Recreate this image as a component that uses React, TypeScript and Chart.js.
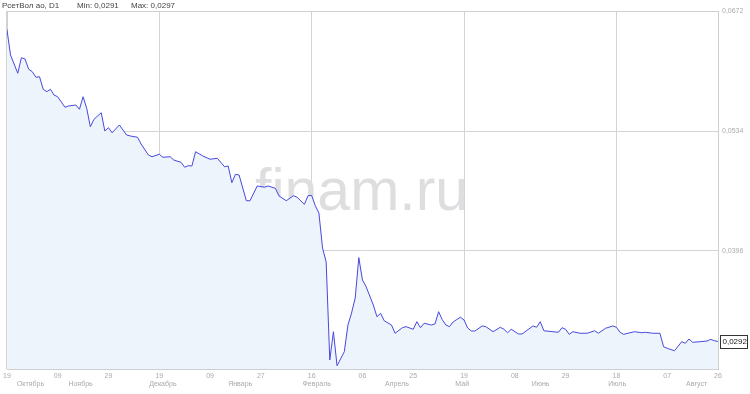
import React, { useEffect, useRef } from "react";
import { Chart, registerables } from "chart.js";

Chart.register(...registerables);

const FONT = "Arial, 'Liberation Sans', sans-serif";

// trading-day index of each sample and closing price
const dayIndex = [
  0, 1, 3, 4, 5, 6, 7, 8, 9, 10, 11, 12, 13, 14, 16, 17, 19, 20, 21, 22, 23, 24, 26, 27, 28, 29, 31, 33, 34, 36, 37, 39, 40, 42,
  43, 45, 46, 48, 49, 50, 51, 52, 54, 56, 58, 60, 61, 62, 63, 64, 66, 67, 69, 71, 72, 74, 75, 77, 79, 80, 82, 83, 84,
  85, 86, 87, 88, 89, 90, 91, 93, 94, 95, 96, 97, 98, 99, 101, 102, 103, 104, 106, 107, 109, 110, 112, 113, 114, 115,
  117, 118, 119, 120, 121, 122, 123, 124, 125, 126, 127, 128, 129, 131, 132, 134, 136, 137, 138, 139, 141, 142, 145,
  146, 147, 148, 152, 153, 154, 155, 156, 158, 160, 162, 163, 165, 167, 168, 169, 170, 173, 175, 176, 178, 180, 181,
  182, 184, 186, 187, 188, 189, 191, 193, 194, 195, 196,
];
const price = [
  0.0651, 0.06214, 0.06004, 0.06183, 0.06168, 0.0605, 0.06022, 0.05958, 0.05964, 0.0582, 0.05792, 0.0582, 0.05754,
  0.05734, 0.05613, 0.05628, 0.05639, 0.0559, 0.05734, 0.05601, 0.05389, 0.05475, 0.0555, 0.0534, 0.05378, 0.0532,
  0.05409, 0.05294, 0.05283, 0.05268, 0.0519, 0.05064, 0.05044, 0.05072,
  0.05038, 0.05044, 0.05006, 0.0498, 0.04923, 0.04941, 0.04938, 0.05102, 0.05053, 0.05015, 0.05026, 0.04929, 0.04937,
  0.04746, 0.04842, 0.04834, 0.04538, 0.04538, 0.04708, 0.04693, 0.04708, 0.04681, 0.04593, 0.04538, 0.04596, 0.04578,
  0.04497, 0.04596, 0.04598,
  0.04481, 0.04397, 0.03995, 0.03834, 0.02707, 0.03032, 0.02641, 0.02802, 0.03109, 0.03247, 0.0342, 0.03883, 0.03627,
  0.0355, 0.03339, 0.03204, 0.03244, 0.03158, 0.03109, 0.03014, 0.03078, 0.0309, 0.0306, 0.03147, 0.03078, 0.03129,
  0.03109, 0.03122, 0.03262, 0.0317, 0.03109, 0.0309, 0.03144, 0.03172, 0.03198, 0.03167, 0.03075, 0.0304, 0.0304,
  0.03098, 0.0309, 0.03032, 0.03083, 0.0306, 0.0302, 0.0306, 0.03006, 0.03006, 0.03098,
  0.03083, 0.03147, 0.03043, 0.03025, 0.03078, 0.0306, 0.03002, 0.03032, 0.03014, 0.03014, 0.03043, 0.03014, 0.03071,
  0.03098, 0.03083, 0.03025, 0.03002, 0.03032, 0.0302, 0.03025, 0.03014, 0.03014, 0.02859,
  0.02841, 0.02813, 0.02917, 0.02899, 0.02948, 0.0291, 0.02917, 0.02925, 0.02944, 0.02928, 0.0292,
];

const tickIndex = [0, 14, 28, 42, 56, 70, 84, 98, 112, 126, 140, 154, 168, 182, 196];
const tickLabels = ["19", "09", "29", "19", "09", "27", "16", "06", "25", "19", "08", "29", "18", "07", "26"];
const monthNames = ["Октябрь", "Ноябрь", "Декабрь", "Январь", "Февраль", "Апрель", "Май", "Июнь", "Июль", "Август"];
const monthPos = [6.5, 20.3, 43.0, 64.3, 85.4, 107.5, 125.5, 147.1, 168.2, 190.1];
const yTicks = [0.0396, 0.0534, 0.0672];
const yMin = 0.02603;
const yMax = 0.0672;
const titleText = "РсетВол ао, D1";
const minText = "Min: 0,0291";
const maxText = "Max: 0,0297";
const watermark = "finam.ru";

const fmt = (v: number) => v.toFixed(4).replace(".", ",");

const decorPlugin = {
  id: "decor",
  beforeDatasetsDraw(chart: any) {
    const { ctx, chartArea } = chart;
    ctx.save();
    ctx.font = `59px ${FONT}`;
    ctx.fillStyle = "#dedee0";
    ctx.textBaseline = "alphabetic";
    ctx.textAlign = "left";
    ctx.fillText(watermark, 255, 210);
    ctx.strokeStyle = "#cfcfcf";
    ctx.lineWidth = 1;
    ctx.strokeRect(
      Math.round(chartArea.left) + 0.5,
      Math.round(chartArea.top) + 0.5,
      Math.round(chartArea.right - chartArea.left),
      Math.round(chartArea.bottom - chartArea.top)
    );
    ctx.restore();
  },
  afterDraw(chart: any) {
    const { ctx, chartArea, scales } = chart;
    ctx.save();
    // title
    ctx.font = `8px ${FONT}`;
    ctx.fillStyle = "#444";
    ctx.textBaseline = "middle";
    ctx.textAlign = "left";
    ctx.fillText(titleText, 2, 5.5);
    ctx.fillText(minText, 77, 5.5);
    ctx.fillText(maxText, 131, 5.5);
    // month names
    ctx.font = `7px ${FONT}`;
    ctx.fillStyle = "#aaaaaa";
    ctx.textAlign = "center";
    monthNames.forEach((m, i) => {
      ctx.fillText(m, scales.x.getPixelForValue(monthPos[i]), 384.5);
    });
    // last value box
    const last = price[price.length - 1];
    const y = Math.round(scales.y.getPixelForValue(last));
    const x = Math.round(chartArea.right) + 2;
    ctx.fillStyle = "#fff";
    ctx.fillRect(x, y - 6, 27, 13);
    ctx.strokeStyle = "#333";
    ctx.lineWidth = 1;
    ctx.strokeRect(x + 0.5, y - 6 + 0.5, 27, 13);
    ctx.font = `8px ${FONT}`;
    ctx.fillStyle = "#222";
    ctx.textAlign = "left";
    ctx.fillText(fmt(last), x + 2.5, y + 1);
    ctx.restore();
  },
};

export default function App() {
  const ref = useRef<HTMLCanvasElement>(null);
  useEffect(() => {
    document.body.style.margin = "0";
    const canvas = ref.current!;
    const chart = new Chart(canvas, {
      type: "line",
      data: {
        datasets: [
          {
            data: dayIndex.map((d, i) => ({ x: d, y: price[i] })),
            borderColor: "#4848dc",
            borderWidth: 1,
            backgroundColor: "#edf4fc",
            fill: "start",
            pointRadius: 0,
            tension: 0,
          },
        ],
      },
      options: {
        animation: false,
        responsive: false,
        layout: { padding: { left: 5, top: 11, right: 0, bottom: 0 } },
        plugins: { legend: { display: false }, tooltip: { enabled: false }, title: { display: false } },
        scales: {
          x: {
            type: "linear",
            min: 0,
            max: 196,
            afterBuildTicks: (s: any) => {
              s.ticks = tickIndex.map((v) => ({ value: v }));
            },
            afterFit: (s: any) => {
              s.height = 25;
            },
            ticks: {
              autoSkip: false,
              maxRotation: 0,
              padding: 3,
              color: "#aaaaaa",
              font: { size: 7, family: FONT },
              callback: (_v: any, i: number) => tickLabels[i],
            },
            grid: {
              drawTicks: false,
              color: (c: any) => (c.index % 3 === 0 ? "#d4d4d4" : "rgba(0,0,0,0)"),
            },
            border: { display: false },
          },
          y: {
            type: "linear",
            position: "right",
            min: yMin,
            max: yMax,
            afterBuildTicks: (s: any) => {
              s.ticks = yTicks.map((v) => ({ value: v }));
            },
            afterFit: (s: any) => {
              s.width = 32;
            },
            ticks: {
              padding: 4,
              color: "#aaaaaa",
              font: { size: 7, family: FONT },
              callback: (v: any) => fmt(Number(v)),
            },
            grid: { drawTicks: false, color: "#d4d4d4" },
            border: { display: false },
          },
        },
      },
      plugins: [decorPlugin],
    });
    return () => chart.destroy();
  }, []);
  return <canvas ref={ref} width={750} height={394} style={{ display: "block" }} />;
}
